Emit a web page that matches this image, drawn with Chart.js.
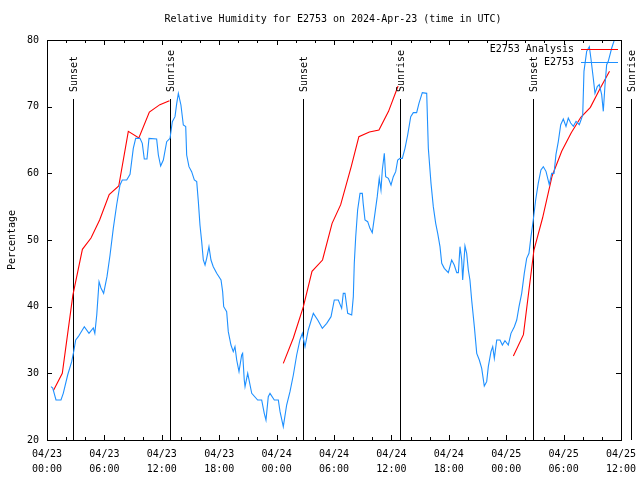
<!DOCTYPE html>
<html>
<head>
<meta charset="utf-8">
<script src="https://cdn.jsdelivr.net/npm/chart.js@4/dist/chart.umd.min.js"></script>
<style>
  body { margin: 0; background: #fff; }
</style>
</head>
<body>
<canvas id="rh_chart" width="640" height="480"></canvas>
<script>
// hours since 04/23 00:00 UTC
const obsHours = [0.42,0.6,0.94,1.46,1.7,2.16,2.58,2.79,3.0,3.27,3.9,4.39,4.84,5.0,5.2,5.44,5.64,5.92,6.27,6.59,6.93,7.28,7.63,7.87,8.33,8.68,9.02,9.27,9.72,9.96,10.17,10.45,10.66,11.46,11.64,11.88,12.16,12.51,12.86,13.1,13.38,13.56,13.73,14.0,14.25,14.5,14.6,14.84,15.12,15.4,15.65,15.82,15.99,16.17,16.34,16.52,16.69,16.93,17.14,17.38,17.74,18.19,18.36,18.47,18.78,18.95,19.23,19.47,19.65,19.83,20.07,20.35,20.45,20.62,20.7,20.98,21.4,22.02,22.44,22.71,22.89,23.13,23.31,23.76,24.18,24.36,24.7,25.05,25.4,25.75,26.1,26.44,26.69,26.97,27.31,27.84,28.3,28.78,29.24,29.69,30.03,30.45,30.8,30.97,31.15,31.43,31.85,32.02,32.12,32.27,32.47,32.72,32.96,33.05,33.24,33.52,33.76,34.0,34.28,34.52,34.73,34.91,35.05,35.26,35.4,35.68,35.96,36.2,36.45,36.66,36.9,37.14,37.42,37.7,38.02,38.29,38.64,38.88,39.23,39.69,39.86,40.14,40.38,40.63,40.84,41.08,41.26,41.53,41.95,42.3,42.57,42.83,43.0,43.17,43.35,43.45,43.69,43.87,44.04,44.21,44.39,44.67,44.92,45.19,45.44,45.71,45.96,46.13,46.41,46.59,46.76,47.01,47.35,47.6,47.87,48.22,48.5,48.85,49.1,49.34,49.62,49.89,50.14,50.38,50.59,50.83,51.08,51.35,51.63,51.88,52.16,52.5,52.76,53.0,53.2,53.45,53.7,53.97,54.25,54.49,54.74,55.02,55.3,55.64,55.89,56.0,56.13,56.41,56.69,56.85,57.1,57.28,57.52,57.73,57.98,58.15,58.33,58.5,58.67,59.03,59.37,59.6];
const obsValues = [28.0,27.8,26.0,26.0,27.0,29.75,31.75,33.25,35,35.5,37,36,36.8,36,38.75,43.75,42.8,42,44.5,47.75,51.75,55.25,58.25,59,59,59.85,63.75,65.25,65.25,64.5,62.15,62.15,65.25,65.15,62.75,61.1,62,64.75,65.25,67.75,68.5,70.5,72,70.25,67.25,67,62.75,61,60.25,59,58.75,55.75,52.25,49.75,47,46.25,47.25,49,47,46,45,44,42.25,40,39.25,36.25,34.25,33.25,34,32,30.25,32.75,33,29,28,30,27,26,26,24,23,26.5,27,26,26,24.25,22,25.25,27.25,29.75,32.75,35,36,34,36.5,39,38,36.75,37.5,38.5,41,41,39.75,42,42,39,38.75,41.5,46.5,50.5,54.5,57,57,55.5,53,52.75,51.75,51.1,54,56.5,59.25,57.5,60.5,63,59.5,59.25,58.25,59.5,60.25,62,62.25,62.25,63.75,65.75,68.5,69.1,69.1,70.5,72.1,72,63.75,58.5,55,52.5,51,49,46.5,45.75,45.1,47,46.25,45.1,45.1,49,47,44,49.1,48,45.5,44,41,37,33,32,30.75,28.1,28.75,31,33.25,34,32.25,35,35,34.25,34.9,34.25,36,37,38,40,42,45,47.25,48,50.5,53,56,58.5,60.5,61,60.3,58.3,60,60,62.8,64.8,67.3,68.15,67.05,68.3,67.55,67.05,67.8,67.3,68.3,68.8,75.3,78.3,79,77.3,74.3,72,73,73.3,71.8,69.3,73.3,76.3,76.8,78.8,80.3,81.5];

const anaHours = [0.66,1.6,2.7,3.7,4.6,5.5,6.5,7.5,8.5,9.6,10.7,11.8,12.8, 13,
                  24.7,25.75,26.8,27.7,28.8,29.8,30.7,31.8,32.6,33.7,34.7,35.7,36.7, 37,
                  48.75,49.8,50.9,51.8,52.8,53.8,54.8,55.8,56.8,57.8,58.8];
const anaValues = [27.4,30,41.7,48.6,50.3,53,56.8,58.1,66.3,65.3,69.2,70.3,70.9, null,
                   31.5,35.3,40,45.3,47,52.5,55.3,61,65.5,66.2,66.5,69.3,73.1, null,
                   32.6,35.8,48.5,53.3,59.6,63.3,66.1,68.4,69.9,72.7,75.3];

const sunsetHours = [2.72, 26.76, 50.8];
const sunriseHours = [12.86, 36.9, 61.0];
const sunLineTop = 71.15;

const tickDays = ['04/23','04/23','04/23','04/23','04/24','04/24','04/24','04/24','04/25','04/25','04/25'];
const tickTimes = ['00:00','06:00','12:00','18:00','00:00','06:00','12:00','18:00','00:00','06:00','12:00'];

const FONT = "'DejaVu Sans Mono', monospace";

const sunEvents = [];
sunsetHours.forEach(h => sunEvents.push({h: h, label: 'Sunset'}));
sunriseHours.forEach(h => sunEvents.push({h: h, label: 'Sunrise'}));

// gnuplot-like frame, inward ticks, sun markers, title and legend
const decorations = {
    id: 'decorations',
    beforeDatasetsDraw(chart) {
        const c = chart.ctx;
        const xs = chart.scales.x, ys = chart.scales.y;
        c.save();
        c.strokeStyle = '#000';
        c.lineWidth = 1;
        c.beginPath();
        sunEvents.forEach(e => {
            const px = Math.round(xs.getPixelForValue(e.h)) + 0.5;
            c.moveTo(px, Math.round(ys.getPixelForValue(20)));
            c.lineTo(px, Math.round(ys.getPixelForValue(sunLineTop)));
        });
        c.stroke();
        c.restore();
    },
    afterDraw(chart) {
        const c = chart.ctx;
        const a = chart.chartArea;
        const xs = chart.scales.x, ys = chart.scales.y;
        c.save();
        c.strokeStyle = '#000';
        c.lineWidth = 1;
        c.strokeRect(Math.round(a.left) + 0.5, Math.round(a.top) + 0.5,
                     Math.round(a.right - a.left), Math.round(a.bottom - a.top));
        c.beginPath();
        xs.ticks.forEach(t => {
            const px = Math.round(xs.getPixelForValue(t.value)) + 0.5;
            const len = t.value % 6 === 0 ? 5 : 3;
            c.moveTo(px, a.bottom); c.lineTo(px, a.bottom - len);
            c.moveTo(px, a.top); c.lineTo(px, a.top + len);
        });
        ys.ticks.forEach(t => {
            const py = Math.round(ys.getPixelForValue(t.value)) + 0.5;
            c.moveTo(a.left, py); c.lineTo(a.left + 5, py);
            c.moveTo(a.right, py); c.lineTo(a.right - 5, py);
        });
        c.stroke();

        c.fillStyle = '#000';
        c.font = '10px ' + FONT;
        c.textAlign = 'center';
        c.textBaseline = 'middle';
        c.fillText('Relative Humidity for E2753 on 2024-Apr-23 (time in UTC)', 333, 19);

        c.save();
        c.translate(12, 240);
        c.rotate(-Math.PI / 2);
        c.fillText('Percentage', 0, 0);
        c.restore();

        sunEvents.forEach(e => {
            const px = Math.round(xs.getPixelForValue(e.h)) + 1.5;
            const py = ys.getPixelForValue(sunLineTop) - 7;
            c.save();
            c.translate(px, py);
            c.rotate(-Math.PI / 2);
            c.textAlign = 'left';
            c.fillText(e.label, 0, 0);
            c.restore();
        });

        // legend
        const rows = [['E2753 Analysis', '#ff0000', 49], ['E2753', '#1e90ff', 62]];
        rows.forEach(r => {
            c.textAlign = 'right';
            c.fillStyle = '#000';
            c.fillText(r[0], 574, r[2]);
            c.strokeStyle = r[1];
            c.beginPath();
            c.moveTo(581, r[2] + 0.5);
            c.lineTo(618, r[2] + 0.5);
            c.stroke();
        });
        c.restore();
    }
};

const ctx = document.getElementById('rh_chart').getContext('2d');

const chart = new Chart(ctx, {
    type: 'line',
    data: {
        datasets: [{
            label: 'E2753',
            data: obsHours.map((h, i) => ({x: h, y: obsValues[i]})),
            borderColor: '#1e90ff',
            order: 0
        }, {
            label: 'E2753 Analysis',
            data: anaHours.map((h, i) => ({x: h, y: anaValues[i]})),
            borderColor: '#ff0000',
            order: 1
        }]
    },
    options: {
        responsive: false,
        animation: false,
        devicePixelRatio: 1,
        spanGaps: false,
        layout: {
            padding: {top: 40, right: 19, left: 0, bottom: 0}
        },
        plugins: {
            legend: {display: false},
            title: {display: false},
            tooltip: {enabled: false}
        },
        elements: {
            line: {borderWidth: 1.1, tension: 0},
            point: {radius: 0}
        },
        scales: {
            x: {
                type: 'linear',
                min: 0,
                max: 60,
                afterFit: s => { s.height = 40; s.paddingLeft = 0; s.paddingRight = 0; },
                grid: {display: false, drawTicks: false},
                border: {display: false},
                ticks: {
                    stepSize: 2,
                    autoSkip: false,
                    maxRotation: 0,
                    padding: 6.5,
                    color: '#000',
                    font: {family: FONT, size: 10, lineHeight: 1.5},
                    callback: v => v % 6 === 0 ? [tickDays[v / 6], tickTimes[v / 6]] : ''
                }
            },
            y: {
                min: 20,
                max: 80,
                afterFit: s => { s.width = 47; s.paddingTop = 0; s.paddingBottom = 0; },
                grid: {display: false, drawTicks: false},
                border: {display: false},
                ticks: {
                    stepSize: 10,
                    padding: 8,
                    color: '#000',
                    font: {family: FONT, size: 10}
                }
            }
        }
    },
    plugins: [decorations]
});
</script>
</body>
</html>
